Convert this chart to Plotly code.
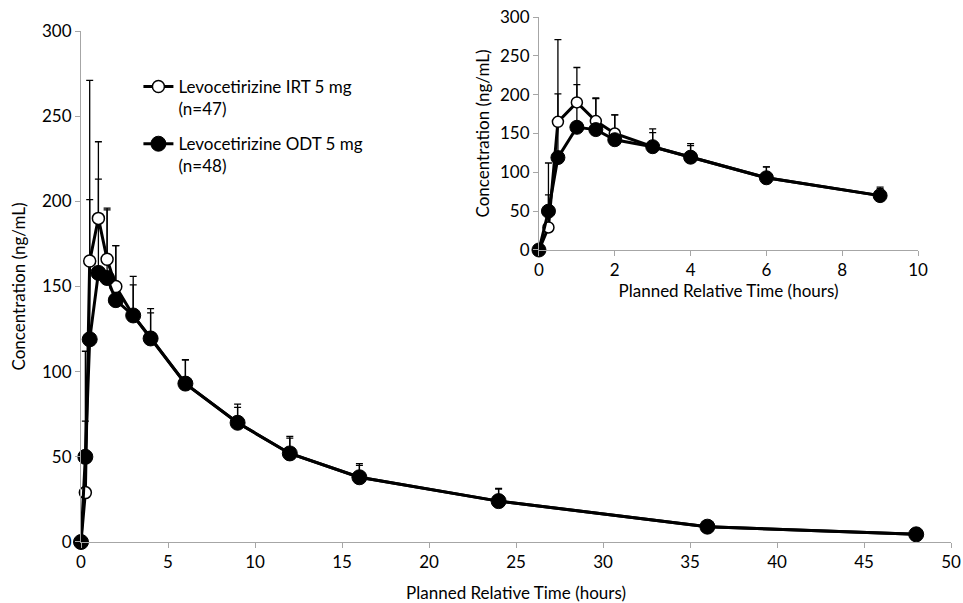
import plotly.graph_objects as go

times = [0, 0.25, 0.5, 1, 1.5, 2, 3, 4, 6, 9, 12, 16, 24, 36, 48]
irt_mean = [0, 29, 165, 190, 166, 150, 133, 120, 93, 70, 52, 38, 24, 9, 4.5]
irt_sd = [0, 42, 106, 45, 30, 24, 23, 17, 14, 11, 10, 8, 7.5, 2, 1]
odt_mean = [0, 50, 119, 158, 155, 142, 133, 119.5, 93, 70, 52, 38, 24, 9, 4.5]
odt_sd = [0, 62, 82, 55, 40, 32, 18, 15, 14, 9, 9, 7, 7, 2, 1]

irt_name = "Levocetirizine IRT 5 mg<br>(n=47)"
odt_name = "Levocetirizine ODT 5 mg<br>(n=48)"

FONT = "Lato"
AXC = "#a6a6a6"
FS = 17

fig = go.Figure()

def add_series(xa, ya, tmax, msize_f, msize_o, lw, legend):
    sel = [i for i, t in enumerate(times) if t <= tmax]
    x = [times[i] for i in sel]
    for mean, sd in ((irt_mean, irt_sd), (odt_mean, odt_sd)):
        fig.add_trace(go.Scatter(
            x=x, y=[mean[i] for i in sel], mode="markers",
            marker=dict(size=2, color="rgba(0,0,0,0)"),
            error_y=dict(type="data", symmetric=False,
                         array=[sd[i] for i in sel],
                         arrayminus=[0] * len(sel),
                         color="black", thickness=1.3, width=3.5),
            xaxis=xa, yaxis=ya, showlegend=False, hoverinfo="skip",
            cliponaxis=False))
    fig.add_trace(go.Scatter(
        x=x, y=[irt_mean[i] for i in sel], mode="lines+markers",
        name=irt_name, legendgroup="irt", showlegend=legend,
        line=dict(color="black", width=lw),
        marker=dict(symbol="circle", size=msize_o, color="white",
                    line=dict(color="black", width=1.5)),
        xaxis=xa, yaxis=ya, cliponaxis=False))
    fig.add_trace(go.Scatter(
        x=x, y=[odt_mean[i] for i in sel], mode="lines+markers",
        name=odt_name, legendgroup="odt", showlegend=legend,
        line=dict(color="black", width=lw),
        marker=dict(symbol="circle", size=msize_f, color="black",
                    line=dict(color="black", width=1)),
        xaxis=xa, yaxis=ya, cliponaxis=False))

add_series("x", "y", 50, 15, 12, 3, True)
add_series("x2", "y2", 10, 14, 11, 3, False)

axis_common = dict(showline=True, linecolor=AXC, linewidth=1,
                   ticks="outside", tickcolor=AXC, ticklen=5,
                   showgrid=False, zeroline=False, automargin=False,
                   ticklabeloverflow="allow",
                   tickfont=dict(size=FS, color="black", family=FONT))

fig.update_layout(
    width=963, height=603,
    margin=dict(l=81, r=12, t=17, b=61, autoexpand=False),
    paper_bgcolor="white", plot_bgcolor="rgba(0,0,0,0)",
    font=dict(family=FONT, size=FS, color="black"),
    xaxis=dict(domain=[0, 1], range=[0, 50], tick0=0, dtick=5,
               title=dict(text="Planned Relative Time (hours)", standoff=15,
                          font=dict(size=FS)),
               anchor="y", **axis_common),
    yaxis=dict(domain=[0, 0.9733], range=[0, 300], tick0=0, dtick=50,
               title=dict(text="Concentration (ng/mL)", standoff=12,
                          font=dict(size=FS)),
               anchor="x", **axis_common),
    xaxis2=dict(domain=[0.5264, 0.9621], range=[0, 10], tick0=0, dtick=2,
                title=dict(text="Planned Relative Time (hours)", standoff=2,
                           font=dict(size=FS)),
                anchor="y2", **axis_common),
    yaxis2=dict(domain=[0.5562, 1.0], range=[0, 300.01], tick0=0, dtick=50,
                title=dict(text="Concentration (ng/mL)", standoff=6,
                           font=dict(size=FS)),
                anchor="x2", **axis_common),
    legend=dict(x=0.066, y=0.901, xanchor="left", yanchor="top",
                bgcolor="rgba(0,0,0,0)", font=dict(size=FS, family=FONT),
                traceorder="grouped", tracegroupgap=10, valign="top",
                itemwidth=30),
)

# remove the browser's default 8px body margin so the figure sits at (0, 0)
fig.write_html("out.html",
               config={"displayModeBar": False},
               post_script="document.body.style.margin='0';"
                           "document.body.style.overflow='hidden';")
